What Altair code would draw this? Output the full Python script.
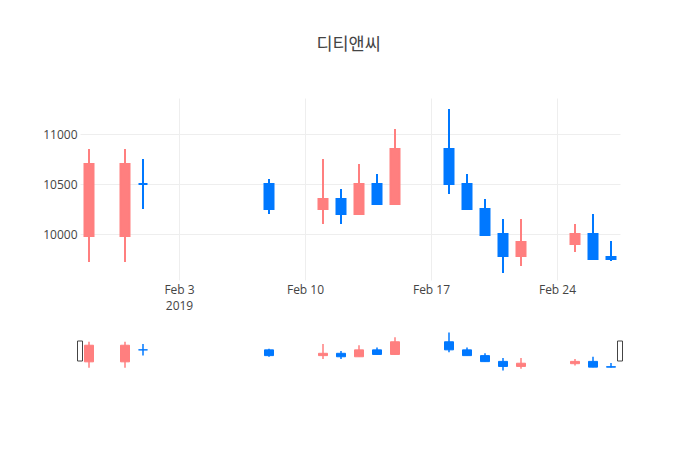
import altair as alt
import pandas as pd

# daily prices (KRW)
dates = ["2019-01-29", "2019-01-31", "2019-02-01", "2019-02-08", "2019-02-11",
         "2019-02-12", "2019-02-13", "2019-02-14", "2019-02-15", "2019-02-18",
         "2019-02-19", "2019-02-20", "2019-02-21", "2019-02-22", "2019-02-25",
         "2019-02-26", "2019-02-27"]
opens = [9980, 9980, 10500, 10500, 10250, 10350, 10200, 10500, 10300, 10850,
         10500, 10250, 10000, 9780, 9900, 10000, 9770]
highs = [10850, 10850, 10750, 10550, 10750, 10450, 10700, 10600, 11050, 11250,
         10600, 10350, 10150, 10150, 10100, 10200, 9930]
lows = [9720, 9720, 10250, 10200, 10100, 10100, 10200, 10300, 10300, 10400,
        10250, 9980, 9610, 9680, 9820, 9750, 9730]
closes = [10700, 10700, 10500, 10250, 10350, 10200, 10500, 10300, 10850, 10500,
          10250, 9990, 9780, 9920, 10000, 9750, 9750]

y_ticks = [10000, 10500, 11000]
x_tick_dates = ["2019-02-03", "2019-02-10", "2019-02-17", "2019-02-24"]
range_ends = ["2019-01-28 12:00", "2019-02-27 12:00"]


def to_ms(s):
    return int(pd.Timestamp(s, tz="UTC").value // 1_000_000)


df = pd.DataFrame({"t": [to_ms(d) for d in dates], "open": opens, "high": highs,
                   "low": lows, "close": closes})
df["direction"] = ["up" if c > o else "down" for o, c in zip(opens, closes)]

handles_df = pd.DataFrame({"t": [to_ms(d) for d in range_ends]})

x_domain = [to_ms(d) for d in range_ends]
x_ticks = [to_ms(d) for d in x_tick_dates]

palette = alt.Scale(domain=["up", "down"], range=["#FF7F7F", "#0078FF"])
color = alt.Color("direction:N", scale=palette, legend=None)
stroke = alt.Stroke("direction:N", scale=palette, legend=None)

x_main = alt.X("t:T", title=None,
               scale=alt.Scale(type="utc", domain=x_domain, nice=False, padding=0),
               axis=alt.Axis(values=x_ticks, grid=True, labelPadding=4,
                             labelLineHeight=16,
                             labelExpr="utcdate(datum.value) == 3 ? ['Feb 3', '2019'] : utcFormat(datum.value, '%b %-d')"))

base = alt.Chart(df)

wick = base.mark_rule(strokeWidth=2).encode(
    x=x_main,
    y=alt.Y("low:Q", title=None,
            scale=alt.Scale(domain=[9540, 11360], nice=False, zero=False),
            axis=alt.Axis(values=y_ticks, format="d", labelPadding=3)),
    y2="high:Q",
    color=color,
)
body = base.mark_bar(size=9, strokeWidth=2).encode(
    x="t:T",
    y="open:Q",
    y2="close:Q",
    color=color,
    stroke=stroke,
)
main = alt.layer(wick, body).properties(width=540, height=182)

# range slider underneath
x_mini = alt.X("t:T", scale=alt.Scale(type="utc", domain=x_domain, nice=False, padding=0),
               axis=None)
mini_wick = base.mark_rule(strokeWidth=1.5).encode(
    x=x_mini,
    y=alt.Y("low:Q", scale=alt.Scale(domain=[9540, 11360], nice=False, zero=False), axis=None),
    y2="high:Q",
    color=color,
)
mini_body = base.mark_bar(size=9, strokeWidth=1).encode(
    x="t:T",
    y="open:Q",
    y2="close:Q",
    color=color,
    stroke=stroke,
)
handles = alt.Chart(handles_df).mark_point(
    shape="M-0.25,-1H0.25V1H-0.25Z", size=400, filled=True,
    fill="white", stroke="#444", strokeWidth=1, opacity=1
).encode(
    x="t:T",
    y=alt.value(21),
)
slider = alt.layer(mini_wick, mini_body, handles).properties(width=540, height=42)

chart = alt.vconcat(main, slider, spacing=19).properties(
    title=alt.TitleParams("디티앤씨", font="Noto Sans CJK KR", fontSize=17.5,
                          fontWeight="normal", color="#444", anchor="middle",
                          offset=45, dx=15),
    padding={"left": 34, "top": 27, "right": 20, "bottom": 10},
).configure_axis(
    labelFont="Open Sans", labelFontSize=12, labelColor="#444",
    gridColor="#eee", domain=False, ticks=False,
).configure_view(strokeWidth=0)

chart.save("out.html", embed_options={"renderer": "svg", "actions": False})
